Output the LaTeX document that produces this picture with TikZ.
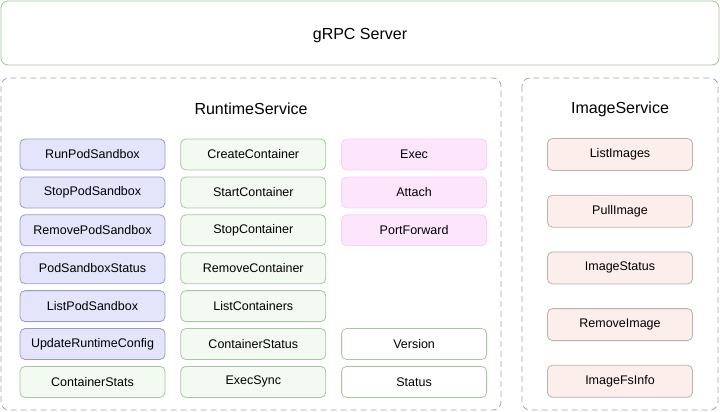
\documentclass[tikz,border=0pt]{standalone}
\usepackage{fontspec}
\setmainfont{Liberation Sans}
\usetikzlibrary{positioning}

\definecolor{podfill}{HTML}{E4E4FB}
\definecolor{poddraw}{HTML}{9A9AC6}
\definecolor{ctrfill}{HTML}{F3FAF1}
\definecolor{ctrdraw}{HTML}{A8C6A3}
\definecolor{strfill}{HTML}{FDE6FB}
\definecolor{strdraw}{HTML}{F4D2F1}
\definecolor{imgfill}{HTML}{FBEEEB}
\definecolor{imgdraw}{HTML}{B8B2AF}
\definecolor{srvdraw}{HTML}{9DBF99}
\definecolor{dashdraw}{HTML}{A5A5A5}

\begin{document}
\begin{tikzpicture}[x=1pt,y=-1pt,
        node distance=6.1pt and 15pt,
        box/.style={rectangle,draw,rounded corners=5pt,line width=0.8pt,minimum width=145pt,minimum height=31pt,inner sep=0pt,font=\fontsize{12.5}{15}\selectfont},
        pod/.style={box,fill=podfill,draw=poddraw},
        ctr/.style={box,fill=ctrfill,draw=ctrdraw},
        stream/.style={box,fill=strfill,draw=strdraw},
        misc/.style={box,fill=white,draw=ctrdraw},
        img/.style={box,fill=imgfill,draw=imgdraw,minimum height=32pt},
        group/.style={draw=dashdraw,dash pattern=on 6pt off 4pt,line width=0.8pt,rounded corners=8pt},
        title/.style={font=\fontsize{16}{19}\selectfont}
    ]
        \useasboundingbox (0,0) rectangle (720,412);

        % outer frames
        \draw[srvdraw,line width=0.8pt,rounded corners=7pt] (1,1) rectangle (719,65);
        \node[title] (grpc) at (360,36) {gRPC Server};
        \draw[group] (1,78) rectangle (501,410);
        \draw[group] (522,78) rectangle (718,410);
        \node[title] (runtime) at (251,109) {RuntimeService};
        \node[title] (image) at (620,109) {ImageService};

        % pod sandbox calls
        \node[pod] (runpod) at (92.5,154.5) {RunPodSandbox};
        \node[pod, below=of runpod] (stoppod) {StopPodSandbox};
        \node[pod, below=of stoppod] (removepod) {RemovePodSandbox};
        \node[pod, below=of removepod] (podstatus) {PodSandboxStatus};
        \node[pod, below=of podstatus] (listpod) {ListPodSandbox};
        \node[pod, below=of listpod] (updatecfg) {UpdateRuntimeConfig};
        \node[ctr, below=of updatecfg] (ctrstats) {ContainerStats};

        % container calls
        \node[ctr, right=of runpod] (createctr) {CreateContainer};
        \node[ctr, below=of createctr] (startctr) {StartContainer};
        \node[ctr, below=of startctr] (stopctr) {StopContainer};
        \node[ctr, below=of stopctr] (removectr) {RemoveContainer};
        \node[ctr, below=of removectr] (listctr) {ListContainers};
        \node[ctr, below=of listctr] (ctrstatus) {ContainerStatus};
        \node[ctr, below=of ctrstatus] (execsync) {ExecSync};

        % streaming and misc
        \node[stream, right=of createctr] (exec) {Exec};
        \node[stream, below=of exec] (attach) {Attach};
        \node[stream, below=of attach] (portfwd) {PortForward};
        \node[misc, right=of ctrstatus] (version) {Version};
        \node[misc, right=of execsync] (status) {Status};

        % image calls
        \node[img] (listimg) at (620,154.5) {ListImages};
        \node[img, below=23.9pt of listimg] (pullimg) {PullImage};
        \node[img, below=23.9pt of pullimg] (imgstatus) {ImageStatus};
        \node[img, below=23.9pt of imgstatus] (removeimg) {RemoveImage};
        \node[img, below=23.9pt of removeimg] (imgfs) {ImageFsInfo};
    \end{tikzpicture}
\end{document}
